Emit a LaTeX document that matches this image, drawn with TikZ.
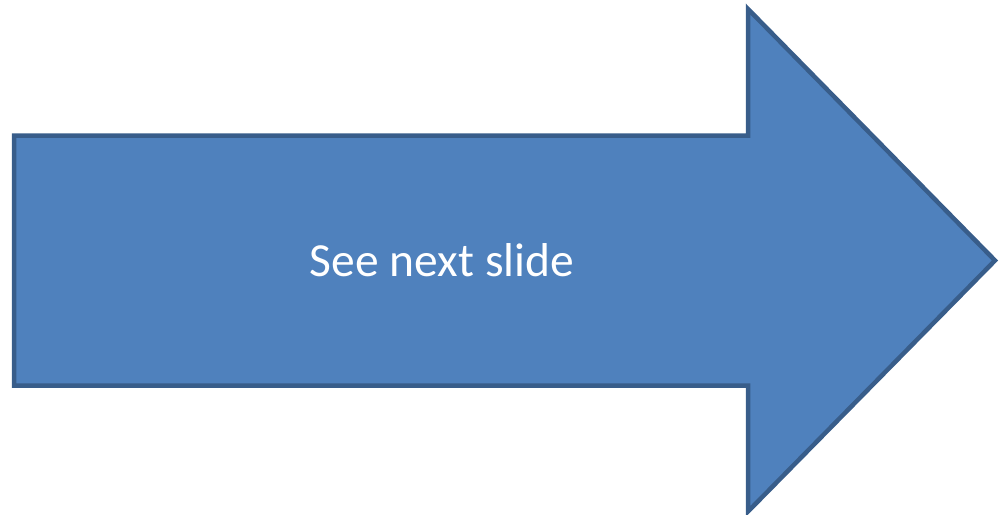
\documentclass[tikz,border=0pt]{standalone}
\usepackage{fontspec}
\setmainfont{Carlito}
\definecolor{arrfill}{HTML}{4F81BD}
\definecolor{arrline}{HTML}{385D8A}
\tikzset{bigarrow/.style={fill=arrfill,draw=arrline,line width=4.5pt,line join=miter}}
\begin{document}
\begin{tikzpicture}[x=1pt,y=-1pt]
\useasboundingbox (0,0) rectangle (1000,514);
\draw[bigarrow] (14,135.5) -- (748,135.5) -- (748,9) -- (995,260.5) -- (748,511.5) -- (748,385.5) -- (14,385.5) -- cycle;
\node[text=white,font=\fontsize{47.5}{57}\selectfont,inner sep=0pt,anchor=base] (lbl) at (442,276) {See next slide};
\end{tikzpicture}
\end{document}
